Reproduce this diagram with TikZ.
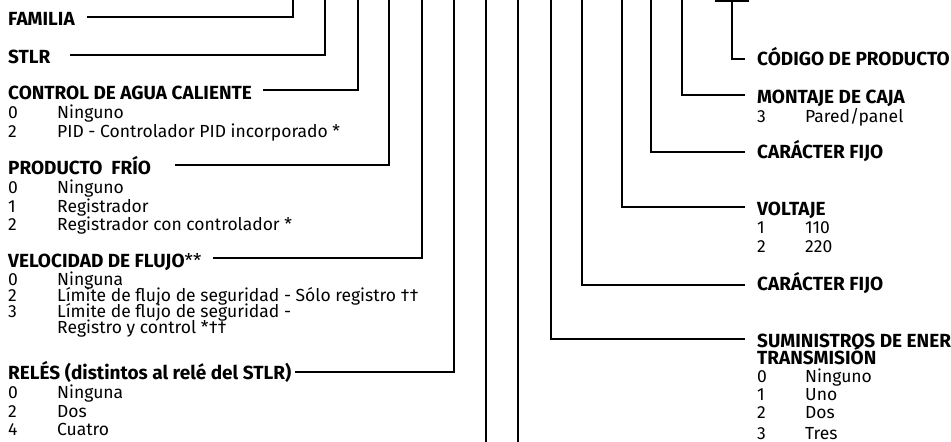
\documentclass[tikz,border=0pt]{standalone}
\usepackage{fontspec}
\setmainfont{Fira Sans}
\begin{document}
\begin{tikzpicture}[x=1pt,y=-1pt,
  lead/.style={line width=1.8pt,line join=miter},
  head/.style={anchor=base west,inner sep=0pt,font=\fontsize{19}{20}\selectfont\bfseries},
  itm/.style={anchor=base west,inner sep=0pt,font=\fontsize{17.5}{19}\selectfont},
]
\useasboundingbox (0,0) rectangle (951,442);
\newcommand{\numL}[1]{\makebox[49pt][l]{#1}}
\newcommand{\numR}[1]{\makebox[48pt][l]{#1}}
% ---------- left headings and lists
\node[head] (fam) at (8,25) {FAMILIA};
\node[head] (stlr) at (8,63) {STLR};
\node[head] (ctrl) at (8,99) {CONTROL DE AGUA CALIENTE};
\node[itm] (ctrl0) at (8,118) {\numL{0}Ninguno};
\node[itm] (ctrl2) at (8,137) {\numL{2}PID - Controlador PID incorporado *};
\node[head] (frio) at (8,174) {PRODUCTO\ \ FRÍO};
\node[itm] (frio0) at (8,193) {\numL{0}Ninguno};
\node[itm] (frio1) at (8,212) {\numL{1}Registrador};
\node[itm] (frio2) at (8,230) {\numL{2}Registrador con controlador *};
\node[head] (flujo) at (8,267) {VELOCIDAD DE FLUJO{\mdseries**}};
\node[itm] (flujo0) at (8,285) {\numL{0}Ninguna};
\node[itm] (flujo2) at (8,301) {\numL{2}Límite de flujo de seguridad - Sólo registro ††};
\node[itm] (flujo3) at (8,317) {\numL{3}Límite de flujo de seguridad -};
\node[itm] (flujo3b) at (8,333) {\numL{}Registro y control *††};
\node[head] (rel) at (8,379) {RELÉS (distintos al relé del STLR)};
\node[itm] (rel0) at (8,398) {\numL{0}Ninguna};
\node[itm] (rel2) at (8,417) {\numL{2}Dos};
\node[itm] (rel4) at (8,435) {\numL{4}Cuatro};
% ---------- right headings and lists
\node[head] (cod) at (757,65) {CÓDIGO DE PRODUCTO};
\node[head] (caja) at (757,103) {MONTAJE DE CAJA};
\node[itm] (caja3) at (757,122) {\numR{3}Pared/panel};
\node[head] (fijoA) at (757,158) {CARÁCTER FIJO};
\node[head] (volt) at (757,215) {VOLTAJE};
\node[itm] (volt1) at (757,233) {\numR{1}110};
\node[itm] (volt2) at (757,252) {\numR{2}220};
\node[head] (fijoB) at (757,290) {CARÁCTER FIJO};
\node[head] (sum) at (757,347) {SUMINISTROS DE ENERGÍA DE};
\node[head] (trans) at (757,364) {TRANSMISIÓN};
\node[itm] (sum0) at (757,382) {\numR{0}Ninguno};
\node[itm] (sum1) at (757,400) {\numR{1}Uno};
\node[itm] (sum2) at (757,418) {\numR{2}Dos};
\node[itm] (sum3) at (757,439) {\numR{3}Tres};
% ---------- connector end points
\coordinate (sFam) at (87,17);   \coordinate (tFam) at (293,-3);
\coordinate (sStlr) at (70,55);  \coordinate (tStlr) at (325,-3);
\coordinate (sCtrl) at (263,90); \coordinate (tCtrl) at (358,-3);
\coordinate (sFrio) at (175,165);\coordinate (tFrio) at (389,-3);
\coordinate (sFlujo) at (213,258);\coordinate (tFlujo) at (422,-3);
\coordinate (sRel) at (295,372); \coordinate (tRel) at (454,-3);
\coordinate (pA1) at (486,-3);   \coordinate (pA2) at (486,445);
\coordinate (pB1) at (518,-3);   \coordinate (pB2) at (518,445);
\coordinate (sSum) at (745,339); \coordinate (tSum) at (551,-3);
\coordinate (sFijoB) at (745,285);\coordinate (tFijoB) at (582,-3);
\coordinate (sVolt) at (745,207);\coordinate (tVolt) at (622,-3);
\coordinate (sFijoA) at (745,152);\coordinate (tFijoA) at (651,-3);
\coordinate (sCaja) at (745,95); \coordinate (tCaja) at (682,-3);
\coordinate (barL) at (715,1);   \coordinate (barR) at (749,1);
\coordinate (barM) at (732,1);   \coordinate (sCod) at (745,59);
% ---------- connectors
\draw[lead] (sFam) -| (tFam);
\draw[lead] (sStlr) -| (tStlr);
\draw[lead] (sCtrl) -| (tCtrl);
\draw[lead] (sFrio) -| (tFrio);
\draw[lead] (sFlujo) -| (tFlujo);
\draw[lead] (sRel) -| (tRel);
\draw[lead] (pA1) -- (pA2);
\draw[lead] (pB1) -- (pB2);
\draw[lead] (sSum) -| (tSum);
\draw[lead] (sFijoB) -| (tFijoB);
\draw[lead] (sVolt) -| (tVolt);
\draw[lead] (sFijoA) -| (tFijoA);
\draw[lead] (sCaja) -| (tCaja);
\draw[lead] (barL) -- (barR);
\draw[lead] (barM) |- (sCod);
\end{tikzpicture}
\end{document}
